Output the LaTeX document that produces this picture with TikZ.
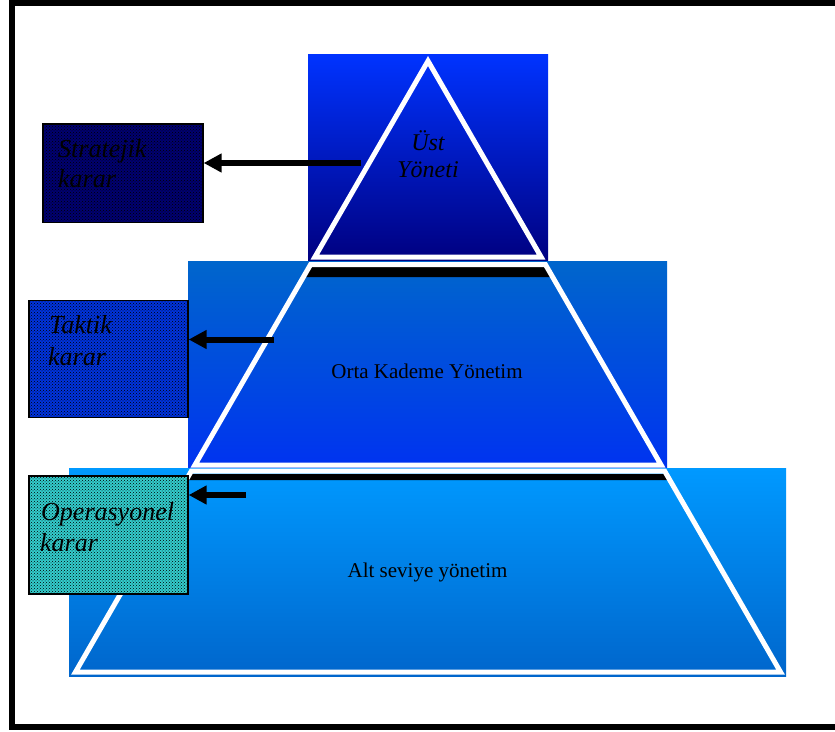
\documentclass[tikz,border=0pt]{standalone}
\usepackage{fontspec}
\setmainfont{Liberation Serif}
\usetikzlibrary{arrows.meta,patterns}
\definecolor{topA}{HTML}{0033FF}
\definecolor{topB}{HTML}{000080}
\definecolor{midA}{HTML}{0066CC}
\definecolor{midB}{HTML}{0033F0}
\definecolor{botA}{HTML}{0099FF}
\definecolor{botB}{HTML}{0066CC}
\definecolor{stratcol}{HTML}{000070}
\definecolor{taktcol}{HTML}{0033DD}
\definecolor{opercol}{HTML}{33CCCC}
\begin{document}
\begin{tikzpicture}[x=1pt,y=-1pt,
  wline/.style={draw=white, line width=5pt, line join=miter},
  decbox/.style={draw=black, line width=1.3pt, preaction={fill=#1},
    pattern=crosshatch dots, pattern color=black, inner sep=0pt},
  arr/.style={line width=6pt, -{Triangle[length=18pt,width=18pt]}},
  lbl/.style={font=\fontsize{26}{30}\selectfont\itshape, inner sep=0pt, anchor=base west},
  tierlbl/.style={font=\fontsize{21}{25}\selectfont, inner sep=0pt, anchor=base},
  toplbl/.style={font=\fontsize{24}{27}\selectfont\itshape, inner sep=0pt, anchor=base}]
\useasboundingbox (0,0) rectangle (835,731);
% frame
\draw[line width=6pt, line join=miter] (845,3) -- (12,3) -- (12,727) -- (845,727);
% tier backgrounds
\shade[top color=topA, bottom color=topB] (308,54) rectangle (548,261);
\shade[top color=midA, bottom color=midB] (188,261) rectangle (667,467);
\shade[top color=botA, bottom color=botB] (69,468) rectangle (786,676);
% black bars
\fill[black] (309.1,267) -- (546.9,267) -- (552.6,277) -- (303.4,277) -- cycle;
\fill[black] (189.7,474) -- (666.3,474) -- (669.8,480) -- (186.2,480) -- cycle;
% white outlines
\draw[wline] (428,61) -- (541.1,257) -- (314.9,257) -- cycle;
\draw[wline] (310.6,264.5) -- (545.4,264.5) -- (661.1,465) -- (194.9,465) -- cycle;
\draw[wline] (191.4,471) -- (664.6,471) -- (780.5,672) -- (75.5,672) -- cycle;
% tier texts
\node[toplbl] (ust1) at (428,150) {Üst};
\node[toplbl] (ust2) at (428,177) {Yöneti};
\node[tierlbl] (orta) at (427,378) {Orta Kademe Yönetim};
\node[tierlbl] (alt) at (427.5,577) {Alt seviye yönetim};
% decision boxes
\node[decbox=stratcol, minimum width=160pt, minimum height=98.5pt] (strat) at (123,173.2) {};
\node[decbox=taktcol, minimum width=159pt, minimum height=117pt] (takt) at (108.5,359) {};
\node[decbox=opercol, minimum width=159pt, minimum height=118pt] (oper) at (108.5,535) {};
\node[lbl] (s1) at (58,157) {Stratejik};
\node[lbl] (s2) at (58,187) {karar};
\node[lbl] (k1) at (49,333) {Taktik};
\node[lbl] (k2) at (48,365) {karar};
\node[lbl] (o1) at (41,520) {Operasyonel};
\node[lbl] (o2) at (40,551) {karar};
% arrows
\coordinate (a1) at (361,163);
\coordinate (a2) at (274,339.5);
\coordinate (a3) at (246,495);
\draw[arr] (a1) -- (a1 -| strat.east);
\draw[arr] (a2) -- (a2 -| takt.east);
\draw[arr] (a3) -- (a3 -| oper.east);
\end{tikzpicture}
\end{document}
